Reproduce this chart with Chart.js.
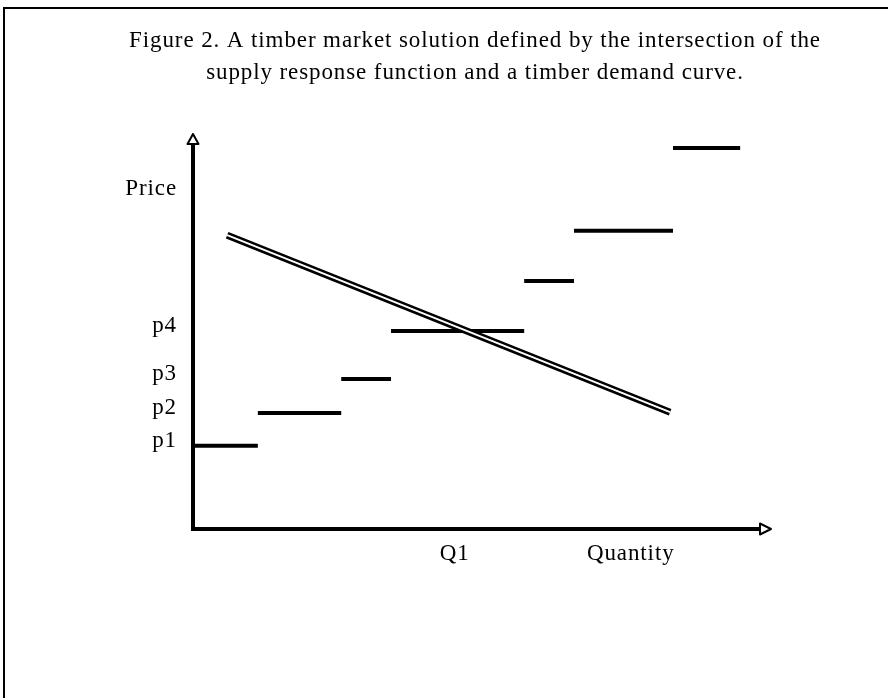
<!DOCTYPE html>
<html>
<head>
<meta charset="utf-8">
<script src="https://cdn.jsdelivr.net/npm/chart.js@4.4.1/dist/chart.umd.min.js"></script>
<style>
  html, body { margin: 0; padding: 0; background: #fff; }
  #wrap { position: relative; width: 888px; height: 698px; overflow: hidden; }
  #frame { position: absolute; left: 3px; top: 7px; right: -5px; bottom: -5px;
           border-top: 2px solid #000; border-left: 2px solid #000; }
  canvas { position: absolute; left: 0; top: 0; }
</style>
</head>
<body>
<div id="wrap">
  <div id="frame"></div>
  <canvas id="c" width="888" height="698"></canvas>
</div>
<script>
// ---- data (arbitrary units: quantity 0-100, price 0-100) ----
const titleLines = [
  'Figure 2. A timber market solution defined by the intersection of the',
  'supply response function and a timber demand curve.'
];
// supply response function: horizontal steps
const stepStart = [0, 11.2, 25.6, 34.2, 57.2, 65.8, 82.9];
const stepEnd   = [11.2, 25.6, 34.2, 57.2, 65.8, 82.9, 94.5];
const stepPrice = [21.0, 29.3, 37.9, 50.0, 62.6, 75.3, 96.2];
// timber demand curve (straight line)
const demandQ = [5.9, 82.4];
const demandP = [74.2, 29.5];
// tick labels
const yTickValues = [21.0, 29.3, 37.9, 50.0, 84.5];
const yTickLabels = ['p1', 'p2', 'p3', 'p4', 'Price'];
const xTickValues = [45.2, 75.6];
const xTickLabels = ['Q1', 'Quantity'];

// ---- build datasets ----
const supplyPts = [];
stepPrice.forEach((p, i) => {
  supplyPts.push({x: stepStart[i], y: p});
  supplyPts.push({x: stepEnd[i], y: p});
  supplyPts.push({x: stepEnd[i], y: null});
});
const demandPts = demandQ.map((q, i) => ({x: q, y: demandP[i]}));

const FONT = "'Liberation Serif', 'Times New Roman', serif";
const FS = 23;
Chart.defaults.font.family = FONT;
Chart.defaults.color = '#000';

const spacingPlugin = {
  id: 'letterSpacing',
  beforeLayout(chart) { chart.ctx.letterSpacing = '0.9px'; },
  beforeDraw(chart) { chart.ctx.letterSpacing = '0.9px'; }
};

const axesPlugin = {
  id: 'axesArrows',
  beforeDatasetsDraw(chart) {
    const {ctx, chartArea: a, scales: {x, y}} = chart;
    const x0 = x.getPixelForValue(0), y0 = y.getPixelForValue(0);
    ctx.save();
    ctx.strokeStyle = '#000';
    ctx.lineWidth = 4;
    ctx.lineCap = 'butt';
    ctx.beginPath();
    ctx.moveTo(x0, y0 + 2); ctx.lineTo(x0, a.top + 10);
    ctx.moveTo(x0 - 2, y0); ctx.lineTo(a.right - 10, y0);
    ctx.stroke();
    ctx.restore();
  },
  afterDraw(chart) {
    const {ctx, chartArea: a, scales: {x, y}} = chart;
    const x0 = x.getPixelForValue(0), y0 = y.getPixelForValue(0);
    ctx.save();
    ctx.fillStyle = '#fff';
    ctx.strokeStyle = '#000';
    ctx.lineWidth = 2;
    ctx.lineJoin = 'round';
    ctx.beginPath();
    ctx.moveTo(x0, a.top + 1);
    ctx.lineTo(x0 - 5.5, a.top + 11);
    ctx.lineTo(x0 + 5.5, a.top + 11);
    ctx.closePath();
    ctx.fill(); ctx.stroke();
    ctx.beginPath();
    ctx.moveTo(a.right - 1, y0);
    ctx.lineTo(a.right - 12, y0 - 5.5);
    ctx.lineTo(a.right - 12, y0 + 5.5);
    ctx.closePath();
    ctx.fill(); ctx.stroke();
    ctx.restore();
  }
};

new Chart(document.getElementById('c'), {
  type: 'line',
  data: {
    datasets: [
      { label: 'demand-inner', data: demandPts, borderColor: '#fff', borderWidth: 2,
        pointRadius: 0, borderCapStyle: 'butt', order: 0 },
      { label: 'demand', data: demandPts, borderColor: '#000', borderWidth: 7,
        pointRadius: 0, borderCapStyle: 'butt', order: 1 },
      { label: 'supply', data: supplyPts, borderColor: '#000', borderWidth: 4,
        pointRadius: 0, borderCapStyle: 'butt', spanGaps: false, order: 2 }
    ]
  },
  options: {
    responsive: false,
    animation: false,
    devicePixelRatio: 1,
    layout: { padding: { top: 10, left: 62, right: 0, bottom: 119 } },
    plugins: {
      legend: { display: false },
      tooltip: { enabled: false },
      title: {
        display: true,
        text: titleLines,
        color: '#000',
        font: { family: FONT, size: FS, weight: 'normal', lineHeight: 32 / FS },
        padding: { top: 15, bottom: 44 }
      }
    },
    scales: {
      x: {
        type: 'linear', min: 0, max: 100,
        grid: { display: false, drawTicks: false },
        border: { display: false },
        afterFit(s) { s.height = 50; },
        afterBuildTicks(s) { s.ticks = xTickValues.map(v => ({value: v})); },
        ticks: {
          autoSkip: false, maxRotation: 0, padding: 11,
          font: { family: FONT, size: FS }, color: '#000',
          callback: (v, i) => xTickLabels[i]
        }
      },
      y: {
        type: 'linear', min: 0, max: 100, position: 'left',
        grid: { display: false, drawTicks: false },
        border: { display: false },
        afterFit(s) { s.width = 131; },
        afterBuildTicks(s) { s.ticks = yTickValues.map(v => ({value: v})); },
        ticks: {
          autoSkip: false, padding: 16, labelOffset: -5,
          font: { family: FONT, size: FS }, color: '#000',
          callback: (v, i) => yTickLabels[i]
        }
      },
      yRight: {
        type: 'linear', position: 'right', display: true,
        grid: { display: false, drawTicks: false },
        border: { display: false },
        ticks: { display: false },
        afterFit(s) { s.width = 116; }
      }
    }
  },
  plugins: [spacingPlugin, axesPlugin]
});
</script>
</body>
</html>
